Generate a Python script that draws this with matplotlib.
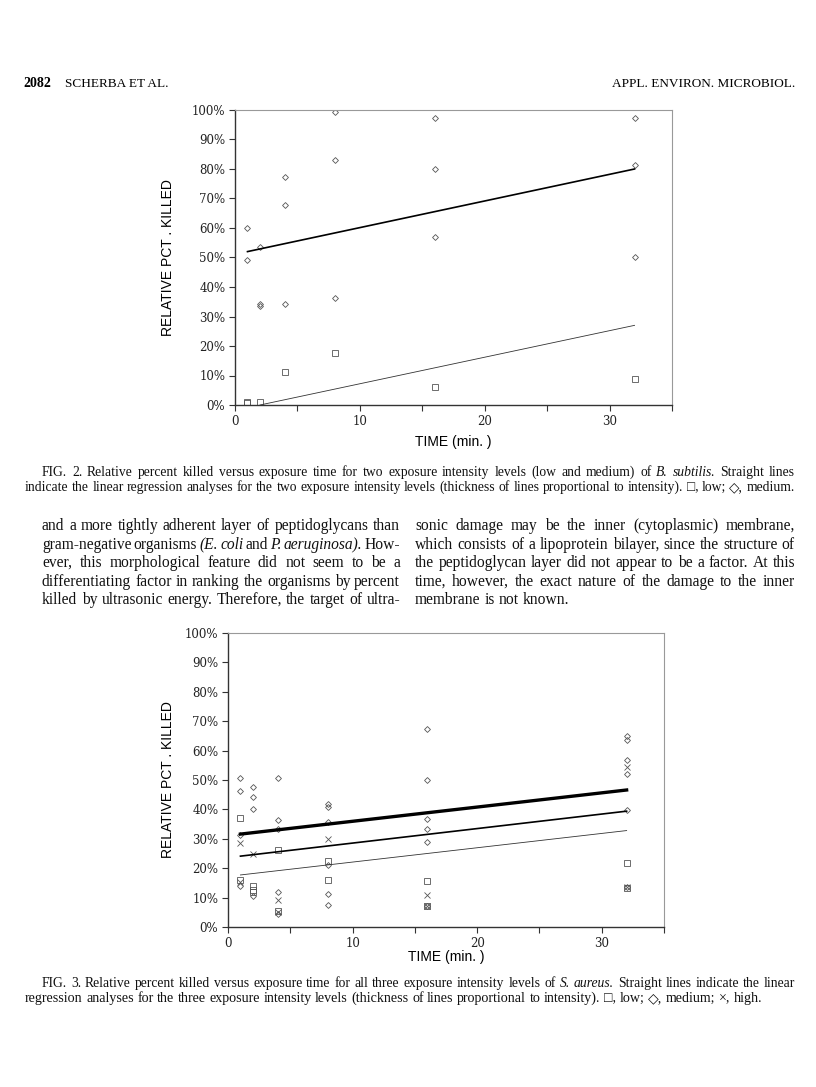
import numpy as np
import matplotlib
matplotlib.use('Agg')
import matplotlib.pyplot as plt

W, H = 816, 1087

# ---- Fig. 2 data (B. subtilis) ----
f2_low_t = [1, 1, 2, 4, 8, 16, 32]
f2_low_y = [0.9, 0.6, 0.9, 11.3, 17.7, 6.1, 8.7]
f2_med_t = [1, 1, 2, 2, 2, 4, 4, 4, 8, 8, 8, 16, 16, 16, 32, 32, 32]
f2_med_y = [60.1, 49.0, 53.4, 34.1, 33.5, 77.4, 67.7, 34.1, 99.2, 83.0, 36.2,
            97.3, 80.1, 57.1, 97.3, 81.2, 50.2]
# regression lines (end points)
f2_low_fit_t = [2, 32]
f2_low_fit_y = [0.0, 27.0]
f2_med_fit_t = [1, 32]
f2_med_fit_y = [52.0, 80.0]

# ---- Fig. 3 data (S. aureus) ----
f3_low_t = [1, 1, 2, 2, 2, 4, 4, 8, 8, 16, 16, 32, 32]
f3_low_y = [37.0, 15.9, 13.9, 12.7, 11.9, 26.1, 5.5, 22.5, 15.9, 15.7, 7.2, 21.6, 13.3]
f3_med_t = [1, 1, 1, 1, 2, 2, 2, 2, 4, 4, 4, 4, 4, 8, 8, 8, 8, 8, 8,
            16, 16, 16, 16, 16, 16, 32, 32, 32, 32, 32, 32]
f3_med_y = [50.7, 46.3, 31.3, 13.8, 47.5, 44.1, 40.0, 10.4,
            50.6, 36.3, 33.2, 11.9, 4.5, 41.9, 40.8, 35.6, 21.0, 11.3, 7.6,
            67.3, 49.9, 36.9, 33.2, 29.0, 7.2, 64.8, 63.6, 56.7, 52.0, 39.8, 13.6]
f3_high_t = [1, 1, 2, 4, 4, 8, 16, 16, 32, 32]
f3_high_y = [28.6, 15.3, 25.0, 9.3, 5.0, 29.9, 10.8, 7.3, 54.5, 13.5]
f3_low_fit_t = [1, 32]
f3_low_fit_y = [17.7, 32.8]
f3_med_fit_t = [1, 32]
f3_med_fit_y = [24.1, 39.4]
f3_high_fit_t = [1, 32]
f3_high_fit_y = [31.6, 46.6]

x_ticks = [0, 5, 10, 15, 20, 25, 30, 35]
x_tick_labels = ['0', '', '10', '', '20', '', '30', '']
y_ticks = list(range(0, 101, 10))
y_tick_labels = ['%d%%' % v for v in y_ticks]

# ---- page text ----
cap2 = ["FIG. 2. Relative percent killed versus exposure time for two exposure intensity levels (low and medium) of _B._ _subtilis._ Straight lines",
        "indicate the linear regression analyses for the two exposure intensity levels (thickness of lines proportional to intensity). \u25a1, low; \u25c7, medium."]
cap3 = ["FIG. 3. Relative percent killed versus exposure time for all three exposure intensity levels of _S._ _aureus._ Straight lines indicate the linear",
        "regression analyses for the three exposure intensity levels (thickness of lines proportional to intensity). \u25a1, low; \u25c7, medium; \u00d7, high."]
body_left = ["and a more tightly adherent layer of peptidoglycans than",
             "gram-negative organisms (_E._ _coli_ and _P._ _aeruginosa)._ How-",
             "ever, this morphological feature did not seem to be a",
             "differentiating factor in ranking the organisms by percent",
             "killed by ultrasonic energy. Therefore, the target of ultra-"]
body_right = ["sonic damage may be the inner (cytoplasmic) membrane,",
              "which consists of a lipoprotein bilayer, since the structure of",
              "the peptidoglycan layer did not appear to be a factor. At this",
              "time, however, the exact nature of the damage to the inner",
              "membrane is not known."]

fig = plt.figure(figsize=(W / 100, H / 100), dpi=100)
fig.patch.set_facecolor('white')
renderer = fig.canvas.get_renderer()
serif = ['Liberation Serif', 'DejaVu Sans']


def put_line(line, x0, x1, y, size, justify=True):
    # y is the baseline in page pixels
    words = line.split(' ')
    texts = []
    for w in words:
        ital = '_' in w
        t = fig.text(0, 1 - y / H, w.replace('_', ''), fontsize=size, family=serif,
                     style='italic' if ital else 'normal', va='baseline', ha='left',
                     color='#111111')
        texts.append(t)
    widths = [t.get_window_extent(renderer).width for t in texts]
    gap = size * 100 / 72 * 0.25
    if justify and len(texts) > 1:
        gap = max((x1 - x0 - sum(widths)) / (len(texts) - 1), 1.0)
    x = x0
    for t, w in zip(texts, widths):
        t.set_x(x / W)
        x += w + gap


def make_axes(box, ylab_x, xlab_y):
    left, top, right, bottom = box
    ax = fig.add_axes([left / W, 1 - bottom / H, (right - left) / W, (bottom - top) / H])
    ax.set_xlim(0, 35)
    ax.set_ylim(0, 100)
    ax.set_xticks(x_ticks)
    ax.set_xticklabels(x_tick_labels, family='DejaVu Serif', fontsize=8.5)
    ax.set_yticks(y_ticks)
    ax.set_yticklabels(y_tick_labels, family='DejaVu Serif', fontsize=8.5)
    ax.tick_params(direction='out', length=4, width=0.8, color='#333333', pad=3,
                   labelcolor='#222222')
    for s in ['left', 'bottom']:
        ax.spines[s].set_color('#333333')
        ax.spines[s].set_linewidth(1.0)
    for s in ['top', 'right']:
        ax.spines[s].set_color('#999999')
        ax.spines[s].set_linewidth(0.8)
    fig.text(ylab_x / W, 1 - (top + bottom) / 2 / H, 'RELATIVE PCT . KILLED', rotation=90,
             family='Liberation Sans', fontsize=10, ha='center', va='center')
    fig.text((left + right) / 2 / W, 1 - xlab_y / H, 'TIME (min. )',
             family='Liberation Sans', fontsize=10, ha='center', va='center')
    return ax


mk = dict(mfc='none', mec='#555555', mew=0.6, ls='none')

# Fig. 2
ax2 = make_axes((235, 110, 672, 405), 168, 442)
ax2.plot(f2_med_t, f2_med_y, marker='D', ms=3.0, **mk)
ax2.plot(f2_low_t, f2_low_y, marker='s', ms=4.2, **mk)
ax2.plot(f2_med_fit_t, f2_med_fit_y, color='black', lw=1.2)
ax2.plot(f2_low_fit_t, f2_low_fit_y, color='#333333', lw=0.6)

# Fig. 3
ax3 = make_axes((228, 633, 664, 927), 168, 957)
ax3.plot(f3_med_t, f3_med_y, marker='D', ms=3.0, **mk)
ax3.plot(f3_low_t, f3_low_y, marker='s', ms=4.2, **mk)
ax3.plot(f3_high_t, f3_high_y, marker='x', ms=4.2, **mk)
ax3.plot(f3_high_fit_t, f3_high_fit_y, color='black', lw=2.4)
ax3.plot(f3_med_fit_t, f3_med_fit_y, color='black', lw=1.2)
ax3.plot(f3_low_fit_t, f3_low_fit_y, color='#333333', lw=0.6)

# header
fig.text(23 / W, 1 - 87 / H, '2082', family='Liberation Serif', fontsize=10, weight='bold', va='baseline')
fig.text(65 / W, 1 - 87 / H, 'SCHERBA ET AL.', family='Liberation Serif', fontsize=9.5, va='baseline')
fig.text(795 / W, 1 - 87 / H, 'APPL. ENVIRON. MICROBIOL.', family='Liberation Serif', fontsize=9.5,
         ha='right', va='baseline')

# captions
put_line(cap2[0], 42, 795, 476, 9.8)
put_line(cap2[1], 25, 795, 491, 9.8)
put_line(cap3[0], 42, 795, 987, 9.8)
put_line(cap3[1], 25, 795, 1002, 10.1, justify=False)

# body text
ys = [530, 549, 567, 586, 604]
for i, (l, r) in enumerate(zip(body_left, body_right)):
    put_line(l, 42, 400, ys[i], 11.2)
    put_line(r, 415, 795, ys[i], 11.2, justify=(i < 4))

fig.savefig('out.png', dpi=100)
